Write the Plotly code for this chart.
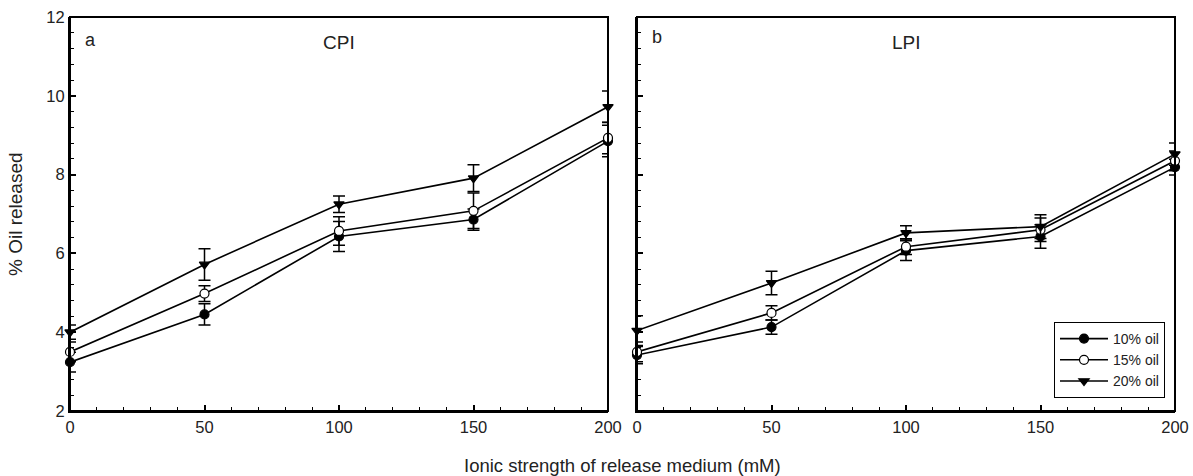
import plotly.graph_objects as go

ionic = [0, 50, 100, 150, 200]

cpi_10 = [3.24, 4.45, 6.43, 6.86, 8.85]
cpi_10_err = [0.25, 0.27, 0.38, 0.27, 0.40]
cpi_15 = [3.50, 4.98, 6.57, 7.08, 8.93]
cpi_15_err = [0.25, 0.20, 0.36, 0.45, 0.40]
cpi_20 = [4.00, 5.72, 7.25, 7.91, 9.72]
cpi_20_err = [0.18, 0.40, 0.21, 0.34, 0.40]

lpi_10 = [3.42, 4.13, 6.07, 6.43, 8.19]
lpi_10_err = [0.22, 0.18, 0.25, 0.30, 0.20]
lpi_15 = [3.50, 4.49, 6.17, 6.60, 8.35]
lpi_15_err = [0.25, 0.18, 0.20, 0.30, 0.25]
lpi_20 = [4.04, 5.25, 6.52, 6.68, 8.52]
lpi_20_err = [0.38, 0.30, 0.18, 0.30, 0.28]

series_names = ["10% oil", "15% oil", "20% oil"]

W, H = 1193, 476
FONT = "Liberation Sans, Arial, sans-serif"

styles = [
    dict(symbol="circle", color="black", line=dict(color="black", width=1.2)),
    dict(symbol="circle", color="white", line=dict(color="black", width=1.2)),
    dict(symbol="triangle-down", color="black", line=dict(color="black", width=1.2)),
]

fig = go.Figure()

panels = [
    ("x", "y", [cpi_10, cpi_15, cpi_20], [cpi_10_err, cpi_15_err, cpi_20_err], False),
    ("x2", "y2", [lpi_10, lpi_15, lpi_20], [lpi_10_err, lpi_15_err, lpi_20_err], True),
]

for xa, ya, vals, errs, show in panels:
    for i in range(3):
        fig.add_trace(go.Scatter(
            x=ionic, y=vals[i], xaxis=xa, yaxis=ya,
            mode="lines+markers", name=series_names[i], showlegend=show,
            line=dict(color="black", width=1.6),
            marker=dict(size=9, **styles[i]),
            error_y=dict(type="data", array=errs[i], visible=True,
                         color="black", thickness=1.5, width=6),
            cliponaxis=False,
        ))

def xaxis_style(domain, anchor):
    return dict(
        domain=domain, anchor=anchor, range=[0, 200], automargin=False,
        tickvals=[0, 50, 100, 150, 200], ticks="inside", ticklen=6, tickwidth=1.5,
        tickcolor="black", showline=True, linecolor="black", linewidth=2, mirror=False,
        showgrid=False, zeroline=False,
        tickfont=dict(family=FONT, size=16.5, color="#222"),
        minor=dict(dtick=10, ticks="inside", ticklen=4, tickwidth=1.2, tickcolor="black", showgrid=False),
    )

def yaxis_style(domain, anchor, labels):
    return dict(
        domain=domain, anchor=anchor, range=[2, 12], automargin=False,
        tickvals=[2, 4, 6, 8, 10, 12], ticks="inside", ticklen=6, tickwidth=1.5,
        tickcolor="black", showline=True, linecolor="black", linewidth=2, mirror=False,
        showgrid=False, zeroline=False, showticklabels=labels,
        tickfont=dict(family=FONT, size=16.5, color="#222"),
        minor=dict(dtick=0.4, tick0=2, ticks="inside", ticklen=4, tickwidth=1.2, tickcolor="black", showgrid=False),
    )

ydom = [1 - 411 / H, 1 - 17 / H]
fig.update_layout(
    width=W, height=H,
    margin=dict(l=0, r=0, t=0, b=0, autoexpand=False),
    paper_bgcolor="white", plot_bgcolor="white",
    font=dict(family=FONT, color="#222"),
    xaxis=xaxis_style([70 / W, 608 / W], "y"),
    yaxis=yaxis_style(ydom, "x", True),
    xaxis2=xaxis_style([637 / W, 1175 / W], "y2"),
    yaxis2=yaxis_style(ydom, "x2", False),
    legend=dict(
        x=1165 / W, y=1 - 322 / H, xanchor="right", yanchor="top",
        bordercolor="black", borderwidth=1, bgcolor="white",
        font=dict(family=FONT, size=14, color="#222"),
        itemwidth=48, tracegroupgap=0,
    ),
    showlegend=True,
)

# frame borders (top and right) of each panel
for xr, yr in [("x domain", "y domain"), ("x2 domain", "y2 domain")]:
    fig.add_shape(type="rect", xref=xr, yref=yr, x0=0, x1=1, y0=0, y1=1,
                  line=dict(color="black", width=2), fillcolor="rgba(0,0,0,0)", layer="above")

ann = [
    dict(text="a", x=0.024, y=0.972, xref="x domain", yref="y domain", xanchor="left", yanchor="top", size=18),
    dict(text="CPI", x=0.5, y=0.967, xref="x domain", yref="y domain", xanchor="center", yanchor="top", size=19),
    dict(text="b", x=0.024, y=0.98, xref="x2 domain", yref="y2 domain", xanchor="left", yanchor="top", size=18),
    dict(text="LPI", x=0.5, y=0.967, xref="x2 domain", yref="y2 domain", xanchor="center", yanchor="top", size=19),
]
for a in ann:
    fig.add_annotation(text=a["text"], x=a["x"], y=a["y"], xref=a["xref"], yref=a["yref"],
                       xanchor=a["xanchor"], yanchor=a["yanchor"], showarrow=False,
                       font=dict(family=FONT, size=a["size"], color="#222"))

fig.add_annotation(text="% Oil released", x=16 / W, y=1 - 214 / H, xref="paper", yref="paper",
                   textangle=-90, showarrow=False, xanchor="center", yanchor="middle",
                   font=dict(family=FONT, size=19, color="#222"))
fig.add_annotation(text="Ionic strength of release medium (mM)", x=622 / W, y=1 - 465 / H,
                   xref="paper", yref="paper", showarrow=False, xanchor="center", yanchor="middle",
                   font=dict(family=FONT, size=18.5, color="#222"))

fig.write_html("out.html")
